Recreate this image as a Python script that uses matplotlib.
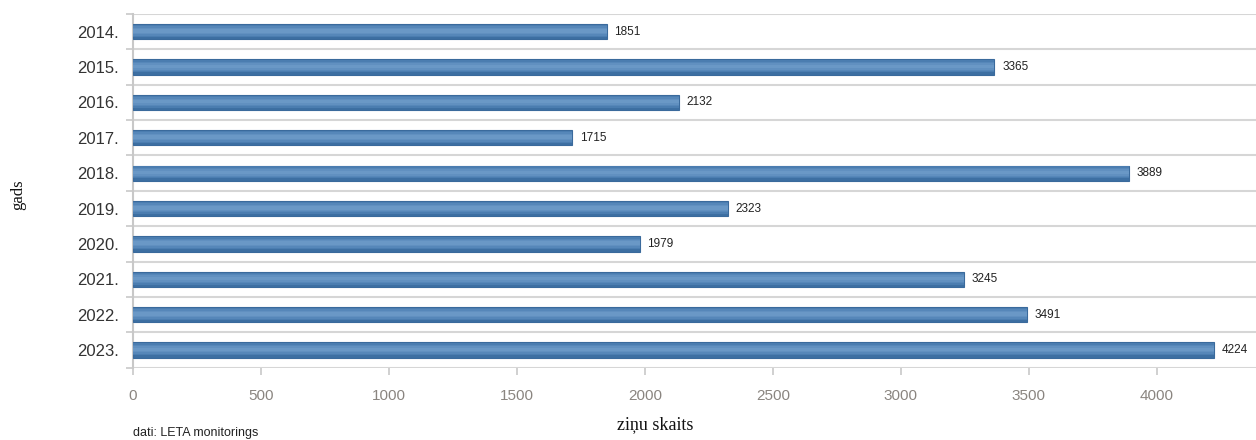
import matplotlib
matplotlib.use("Agg")
import matplotlib.pyplot as plt
import numpy as np

years = ["2014.", "2015.", "2016.", "2017.", "2018.", "2019.", "2020.", "2021.", "2022.", "2023."]
counts = [1851, 3365, 2132, 1715, 3889, 2323, 1979, 3245, 3491, 4224]
xticks = [0, 500, 1000, 1500, 2000, 2500, 3000, 3500, 4000]

W, H = 1256, 440
fig = plt.figure(figsize=(W / 100, H / 100), dpi=100)
ax = fig.add_axes([133 / W, 1 - 367.7 / H, (W - 133) / W, (367.7 - 14) / H])

y = np.arange(len(years))
# base bar plus stacked lighter layers to mimic the gradient
ax.barh(y, counts, height=0.43, color="#3d6fa2", edgecolor="#3a6a9c", linewidth=0.8, zorder=3)
layers = [(0.34, "#4b7db0"), (0.26, "#5687b9"), (0.18, "#6190c0"), (0.10, "#6a98c6")]
for h, c in layers:
    ax.barh(y - 0.02, counts, height=h, color=c, linewidth=0, zorder=4)

for yi, v in zip(y, counts):
    ax.text(v + 30, yi, str(v), va="center", ha="left", fontsize=8.5,
            family="Liberation Sans", color="#222222", zorder=5)

ax.set_xlim(0, 4387)
ax.set_ylim(len(years) - 0.5, -0.5)

for b in np.arange(-0.5, len(years) + 0.5, 1):
    ax.axhline(b, color="#d6d6d6", linewidth=1.5, zorder=1)

ax.set_yticks(y)
ax.set_yticklabels(years, family="Liberation Sans", fontsize=12, color="#333333")
ax.set_yticks(np.arange(-0.5, len(years) + 0.5, 1), minor=True)
ax.tick_params(axis="y", which="major", length=0, pad=10)
ax.tick_params(axis="y", which="minor", length=5, color="#c8c8c8", width=1.2)

ax.set_xticks(xticks)
ax.set_xticklabels([str(t) for t in xticks], family="Liberation Sans", fontsize=11, color="#8a8580")
ax.tick_params(axis="x", length=5, color="#c8c8c8", width=1.2, pad=10)

for s in ["top", "right", "bottom"]:
    ax.spines[s].set_visible(False)
ax.spines["left"].set_color("#c8c8c8")
ax.spines["left"].set_linewidth(1.5)

fig.text(18 / W, 1 - 195 / H, "gads", rotation=90, va="center", ha="center",
         family="Liberation Serif", fontsize=12, color="#111111")
fig.text(655 / W, 1 - 425 / H, "ziņu skaits", va="center", ha="center",
         family="Liberation Serif", fontsize=13, color="#111111")
fig.text(133 / W, 1 - 433 / H, "dati: LETA monitorings", va="center", ha="left",
         family="Liberation Sans", fontsize=9, color="#222222")

fig.savefig("out.png", dpi=100)
